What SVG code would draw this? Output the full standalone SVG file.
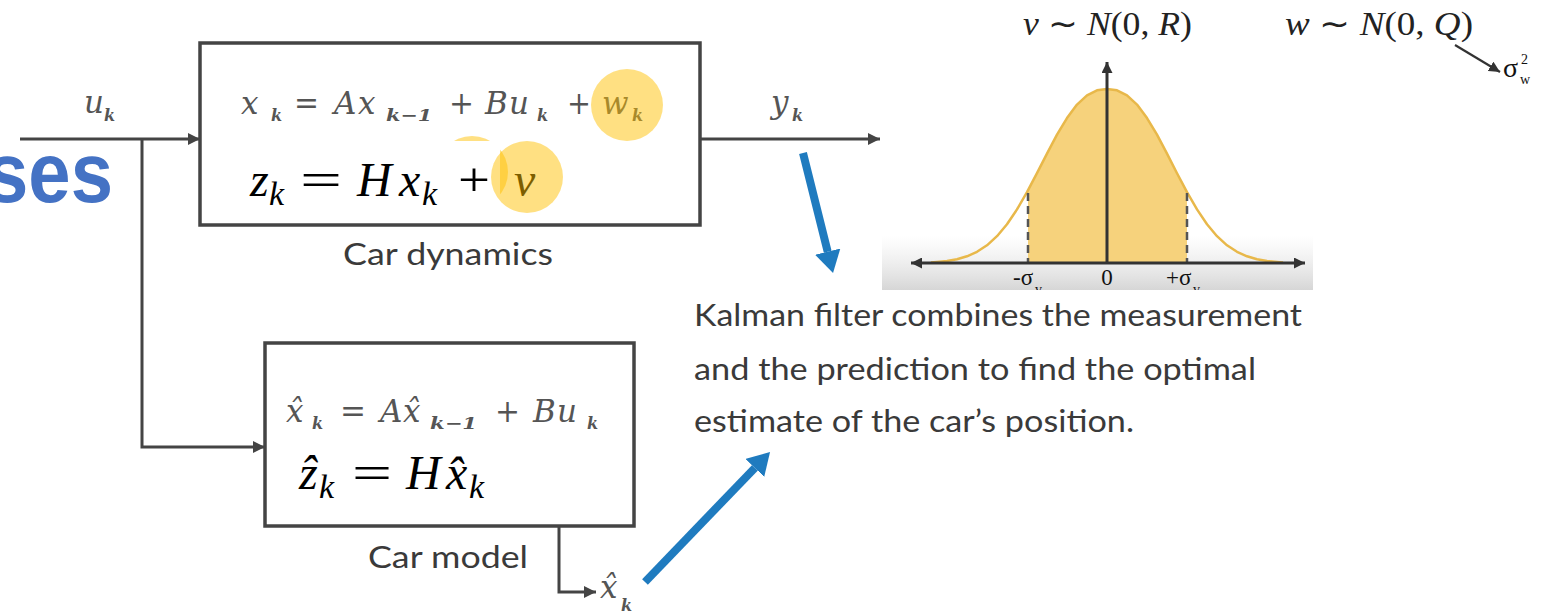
<svg xmlns="http://www.w3.org/2000/svg" width="1555" height="614" viewBox="0 0 1555 614">
<style>
.ln{stroke:#444;stroke-width:3;fill:none}
.box{stroke:#444;stroke-width:3.5;fill:#fff}
.eq{font-family:"DejaVu Serif",serif;font-style:italic;fill:#555;font-size:31px}
.eqr{font-family:"DejaVu Serif",serif;fill:#555;font-size:31px}
.sub{font-family:"DejaVu Serif",serif;font-style:italic;font-weight:bold;fill:#555;font-size:16px}
.big{font-family:"Liberation Serif",serif;font-style:italic;fill:#000;font-size:48px}
.bigr{font-family:"Liberation Serif",serif;fill:#000;font-size:48px}
.bsub{font-family:"Liberation Serif",serif;font-style:italic;fill:#000;font-size:34px}
.cap{font-family:Lato,"Liberation Sans",sans-serif;fill:#3a3a3a;font-size:30px}
.hl{fill:#FFC000;fill-opacity:0.49}
.blue{stroke:#1f7bbf;stroke-width:8;fill:none}
.tm{font-family:"Liberation Serif",serif;fill:#111;font-size:23px}
.sig{font-family:"Liberation Serif",serif;fill:#111;font-size:28px}
.tms{font-family:"Liberation Serif",serif;fill:#111;font-size:14px}
.dist{font-family:"Liberation Serif",serif;fill:#222;font-size:33px}
</style>
<defs>
<marker id="ah" markerUnits="userSpaceOnUse" viewBox="0 0 12 12" markerWidth="12" markerHeight="12" refX="12" refY="6" orient="auto"><path d="M0,0 L12,6 L0,12 z" fill="#444"/></marker>
<marker id="ahs" markerUnits="userSpaceOnUse" viewBox="0 0 12 12" markerWidth="11" markerHeight="11" refX="12" refY="6" orient="auto"><path d="M0,0 L12,6 L0,12 z" fill="#333"/></marker>
<marker id="bh" markerUnits="userSpaceOnUse" viewBox="0 0 22 26" markerWidth="22" markerHeight="26" refX="0" refY="13" orient="auto"><path d="M0,0 L22,13 L0,26 z" fill="#1f7bbf"/></marker>
<linearGradient id="band" x1="0" y1="0" x2="0" y2="1"><stop offset="0" stop-color="#e4e4e4" stop-opacity="0"/><stop offset="1" stop-color="#d6d6d6"/></linearGradient>
</defs>

<text x="-14" y="202" textLength="127" lengthAdjust="spacingAndGlyphs" font-family="Liberation Sans,sans-serif" font-weight="bold" font-size="86" fill="#4472C4">ses</text>

<g id="connectors">
<path class="ln" d="M20,139 H200" marker-end="url(#ah)"/>
<path class="ln" d="M142,139 V447 H265" marker-end="url(#ah)"/>
<path class="ln" d="M700,139 H880" marker-end="url(#ah)"/>
<path class="ln" d="M559,526 V592 H596" marker-end="url(#ah)"/>
<path class="blue" d="M803,153 L827.7,251.7" marker-end="url(#bh)"/>
<path class="blue" d="M645,582 L754.8,467.9" marker-end="url(#bh)"/>
<path d="M1455,45 L1500,72" stroke="#333" stroke-width="2.2" fill="none" marker-end="url(#ahs)"/>
</g>

<g id="labels">
<text class="eq" x="84" y="113">u</text><text class="sub" x="104" y="121">k</text>
<text class="eq" x="771" y="113">y</text><text class="sub" x="792" y="121">k</text>
<text class="eq" x="600" y="598">x̂</text><text class="sub" x="621" y="611">k</text>
</g>

<g id="car-dynamics">
<rect class="box" x="200" y="43" width="500" height="182"/>
<text class="eq" x="241" y="114">x</text><text class="sub" x="271" y="121">k</text>
<text class="eqr" x="294" y="114" textLength="25" lengthAdjust="spacingAndGlyphs">=</text>
<text class="eq" x="334" y="114">A</text>
<text class="eq" x="358" y="114">x</text><text class="sub" x="386" y="121" textLength="46" lengthAdjust="spacingAndGlyphs">k−1</text>
<text class="eqr" x="449" y="114" textLength="25" lengthAdjust="spacingAndGlyphs">+</text>
<text class="eq" x="485" y="114">B</text><text class="eq" x="509" y="114">u</text><text class="sub" x="537" y="121">k</text>
<text class="eqr" x="567" y="114" textLength="24" lengthAdjust="spacingAndGlyphs">+</text>
<text class="eq" x="602" y="114">w</text><text class="sub" x="632" y="121">k</text>
<circle class="hl" cx="627" cy="105" r="36"/>
<circle class="hl" cx="472" cy="172" r="36"/>
<rect x="238" y="141" width="262" height="76" fill="#fff"/>
<text class="big" x="250" y="196">z</text><text class="bsub" x="269" y="205">k</text>
<text class="bigr" x="300" y="196" textLength="42" lengthAdjust="spacingAndGlyphs">=</text>
<text class="big" x="357" y="196">H</text><text class="big" x="399" y="196">x</text><text class="bsub" x="422" y="205">k</text>
<text class="bigr" x="458" y="196" textLength="32" lengthAdjust="spacingAndGlyphs">+</text>
<text class="big" x="514" y="196">v</text>
<circle class="hl" cx="527" cy="177" r="36"/>
<text class="cap" x="343" y="265" textLength="210" lengthAdjust="spacingAndGlyphs">Car dynamics</text>
</g>

<g id="car-model">
<rect class="box" x="265" y="343" width="369" height="183"/>
<text class="eq" x="286" y="422">x̂</text><text class="sub" x="312" y="429">k</text>
<text class="eqr" x="340" y="422" textLength="26" lengthAdjust="spacingAndGlyphs">=</text>
<text class="eq" x="380" y="422">A</text>
<text class="eq" x="403" y="422">x̂</text><text class="sub" x="430" y="429" textLength="47" lengthAdjust="spacingAndGlyphs">k−1</text>
<text class="eqr" x="495" y="422" textLength="25" lengthAdjust="spacingAndGlyphs">+</text>
<text class="eq" x="533" y="422">B</text><text class="eq" x="557" y="422">u</text><text class="sub" x="587" y="429">k</text>
<text class="big" x="299" y="489">ẑ</text><text class="bsub" x="319" y="498">k</text>
<text class="bigr" x="352" y="489" textLength="40" lengthAdjust="spacingAndGlyphs">=</text>
<text class="big" x="406" y="489">H</text><text class="big" x="446" y="489">x̂</text><text class="bsub" x="469" y="498">k</text>
<text class="cap" x="368" y="568" textLength="160" lengthAdjust="spacingAndGlyphs">Car model</text>
</g>

<g id="kalman-text">
<text class="cap" x="694" y="326" textLength="608" lengthAdjust="spacingAndGlyphs">Kalman filter combines the measurement</text>
<text class="cap" x="694" y="380" textLength="562" lengthAdjust="spacingAndGlyphs">and the prediction to find the optimal</text>
<text class="cap" x="694" y="432" textLength="440" lengthAdjust="spacingAndGlyphs">estimate of the car’s position.</text>
</g>

<g id="gaussian">
<rect x="882" y="236" width="431" height="54" fill="url(#band)"/>
<path d="M1028,263 L1028,190.2 L1037,173.2 L1047,153.6 L1057,134.7 L1067,118.1 L1077,104.6 L1087,95.3 L1097,90.3 L1107,89 L1117,90.3 L1127,95.3 L1137,104.6 L1147,118.1 L1157,134.7 L1167,153.6 L1177,173.2 L1187,192.1 L1187,263 Z" fill="#F6D27C"/>
<path d="M931,262.6 L937,262 L947,260.9 L957,259.2 L967,256.3 L977,251.8 L987,245.3 L997,236.2 L1007,224.2 L1017,209.4 L1027,192.1 L1037,173.2 L1047,153.6 L1057,134.7 L1067,118.1 L1077,104.6 L1087,95.3 L1097,90.3 L1107,89 L1117,90.3 L1127,95.3 L1137,104.6 L1147,118.1 L1157,134.7 L1167,153.6 L1177,173.2 L1187,192.1 L1197,209.4 L1207,224.2 L1217,236.2 L1227,245.3 L1237,251.8 L1247,256.3 L1257,259.2 L1267,260.9 L1277,262 L1283,262.6" fill="none" stroke="#E8B84A" stroke-width="2.5" stroke-linejoin="round"/>
<path d="M1028,193 V263 M1187,193 V263" stroke="#555" stroke-width="2.5" stroke-dasharray="8,5"/>
<path d="M1107,263 V62" stroke="#333" stroke-width="3" marker-end="url(#ahs)"/>
<path d="M1107,263 H911" stroke="#333" stroke-width="3" marker-end="url(#ahs)"/>
<path d="M1107,263 H1305" stroke="#333" stroke-width="3" marker-end="url(#ahs)"/>
<text class="tm" x="1013" y="285">-σ</text><text class="tms" x="1035" y="294">v</text>
<text class="tm" x="1107" y="285" text-anchor="middle">0</text>
<text class="tm" x="1166" y="285">+σ</text><text class="tms" x="1193" y="294">v</text>
<rect x="882" y="290" width="431" height="8" fill="#fff"/>
<text class="dist" x="1023" y="35" textLength="169" lengthAdjust="spacingAndGlyphs"><tspan font-style="italic">v</tspan> ∼ <tspan font-style="italic">N</tspan>(0, <tspan font-style="italic">R</tspan>)</text>
<text class="dist" x="1285" y="35" textLength="188" lengthAdjust="spacingAndGlyphs"><tspan font-style="italic">w</tspan> ∼ <tspan font-style="italic">N</tspan>(0, <tspan font-style="italic">Q</tspan>)</text>
<text class="sig" x="1503" y="77">σ</text><text class="tms" x="1521" y="64">2</text><text class="tms" x="1520" y="84">w</text>
</g>
</svg>
